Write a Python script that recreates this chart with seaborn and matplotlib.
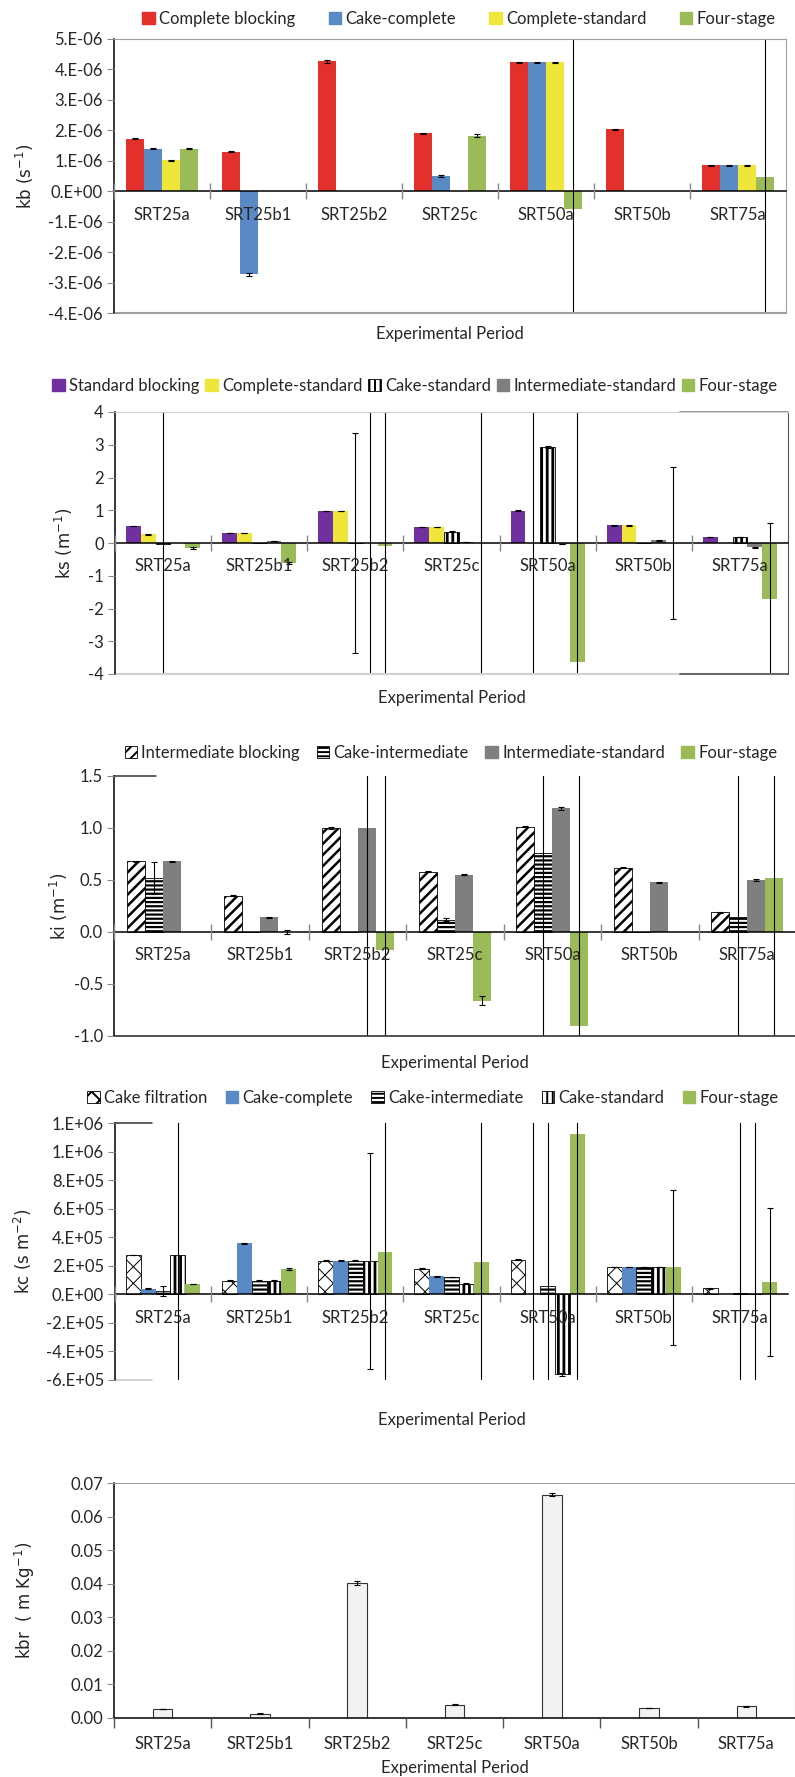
import numpy as np
import pandas as pd
import matplotlib
matplotlib.use('Agg')
import matplotlib.pyplot as plt
from matplotlib.patches import Patch
from matplotlib.ticker import FuncFormatter
import seaborn as sns

sns.set_style('ticks')
plt.rcParams['font.family'] = ['Lato', 'DejaVu Sans']
plt.rcParams['axes.unicode_minus'] = False
plt.rcParams['hatch.linewidth'] = 1.4

periods = ['SRT25a', 'SRT25b1', 'SRT25b2', 'SRT25c', 'SRT50a', 'SRT50b', 'SRT75a']

# --- kb (s-1) ---
kb_series = ['Complete blocking', 'Cake-complete', 'Complete-standard', 'Four-stage']
kb_complete = [1.72e-6, 1.30e-6, 4.27e-6, 1.90e-6, 4.23e-6, 2.04e-6, 0.85e-6]
kb_cake_complete = [1.40e-6, -2.73e-6, 0, 0.50e-6, 4.23e-6, 0.02e-6, 0.85e-6]
kb_complete_std = [1.02e-6, 0, 0, 0, 4.23e-6, 0, 0.85e-6]
kb_four = [1.40e-6, 0, 0, 1.82e-6, -0.58e-6, 0, 0.47e-6]
kb_err = [[0.02e-6, 0.02e-6, 0.05e-6, 0.02e-6, 0.03e-6, 0.02e-6, 0.02e-6],
          [0.01e-6, 0.04e-6, 0, 0.02e-6, 0.03e-6, 0, 0.02e-6],
          [0.02e-6, 0, 0, 0, 0.03e-6, 0, 0.02e-6],
          [0.02e-6, 0, 0, 0.05e-6, 50e-6, 0, 50e-6]]

# --- ks (m-1) ---
ks_series = ['Standard blocking', 'Complete-standard', 'Cake-standard', 'Intermediate-standard', 'Four-stage']
ks_standard = [0.52, 0.31, 0.98, 0.49, 0.99, 0.54, 0.18]
ks_complete_std = [0.26, 0.31, 0.98, 0.49, 0, 0.54, 0]
ks_cake_std = [-0.02, 0, 0, 0.35, 2.93, 0, 0.18]
ks_inter_std = [0, 0.06, 0, 0.03, -0.03, 0.08, -0.13]
ks_four = [-0.15, -0.60, -0.10, 0, -3.62, 0, -1.72]
ks_err = [[0.01] * 7,
          [0.01, 0.01, 0.01, 0.01, 50, 0.01, 0],
          [50, 0, 3.37, 0.01, 0.04, 0, 0.01],
          [0, 0.01, 50, 0.01, 0.01, 0.01, 0.01],
          [0.02, 0.03, 50, 50, 50, 2.33, 2.33]]

# --- ki (m-1) ---
ki_series = ['Intermediate blocking', 'Cake-intermediate', 'Intermediate-standard', 'Four-stage']
ki_inter = [0.68, 0.35, 1.00, 0.58, 1.01, 0.62, 0.19]
ki_cake_inter = [0.52, 0, 0, 0.12, 0.76, 0, 0.14]
ki_inter_std = [0.68, 0.14, 1.00, 0.55, 1.19, 0.48, 0.50]
ki_four = [0, 0, -0.17, -0.66, -0.90, 0, 0.52]
ki_err = [[0.005] * 7,
          [0.15, 0, 0, 0.01, 50, 0, 50],
          [0.005, 0.005, 50, 0.005, 0.015, 0.005, 0.01],
          [0, 0.02, 50, 0.04, 50, 0, 50]]

# --- kc (s m-2) ---
kc_series = ['Cake filtration', 'Cake-complete', 'Cake-intermediate', 'Cake-standard', 'Four-stage']
kc_cake = [2.75e5, 0.95e5, 2.35e5, 1.80e5, 2.42e5, 1.90e5, 0.42e5]
kc_cake_complete = [0.40e5, 3.57e5, 2.35e5, 1.25e5, 0, 1.90e5, 0]
kc_cake_inter = [0.25e5, 0.95e5, 2.35e5, 1.20e5, 0.55e5, 1.90e5, 0.10e5]
kc_cake_std = [2.75e5, 0.95e5, 2.35e5, 0.75e5, -5.60e5, 1.90e5, 0]
kc_four = [0.72e5, 1.77e5, 2.98e5, 2.28e5, 11.2e5, 1.88e5, 0.88e5]
kc_err = [[0.02e5] * 7,
          [0.03e5, 0.04e5, 0.02e5, 0.03e5, 1e8, 0.02e5, 0],
          [0.35e5, 0.02e5, 0.02e5, 0.02e5, 1e8, 0.02e5, 1e8],
          [1e8, 0.02e5, 7.55e5, 0.02e5, 0.12e5, 0.02e5, 1e8],
          [0.03e5, 0.10e5, 1e8, 1e8, 1e8, 5.4e5, 5.2e5]]

# --- kbr (m Kg-1) ---
kbr = [0.0027, 0.0013, 0.0402, 0.0040, 0.0665, 0.0030, 0.0035]
kbr_err = [0.0001, 0.0001, 0.0007, 0.0001, 0.0005, 0.0001, 0.0001]

STYLE = {
    'Complete blocking': ('#E2312A', None),
    'Cake-complete': ('#5A8AC6', None),
    'Complete-standard': ('#EEE63B', None),
    'Four-stage': ('#9BBB59', None),
    'Standard blocking': ('#7030A0', None),
    'Intermediate-standard': ('#7F7F7F', None),
    'Cake-standard': ('white', '|||'),
    'Intermediate blocking': ('white', '///'),
    'Cake-intermediate': ('white', '----'),
    'Cake filtration': ('white', 'xx'),
}
HATCH_LW = {'|||': 2.0, '///': 1.8, '----': 1.6, 'xx': 0.7}

W, H = 795, 1777
fig = plt.figure(figsize=(W / 100, H / 100), dpi=100)


def add_ax(l, r, t, b):
    return fig.add_axes([l / W, 1 - b / H, (r - l) / W, (b - t) / H])


def sci(v, pos):
    if abs(v) < 1e-12:
        return "0.E+00"
    m, e = f"{v:.0e}".split('e')
    return f"{m}.E{e}"


def draw_panel(ax, series, values, errors, width):
    df = pd.DataFrame({
        'period': periods * len(series),
        'series': np.repeat(series, len(periods)),
        'value': np.concatenate(values),
    })
    pal = {s: STYLE[s][0] for s in series}
    sns.barplot(data=df, x='period', y='value', hue='series', hue_order=series,
                palette=pal, width=width, errorbar=None, saturation=1,
                linewidth=0, legend=False, ax=ax)
    handles = []
    for s, cont, vals, err in zip(series, ax.containers, values, errors):
        face, hatch = STYLE[s]
        bars = sorted(cont.patches, key=lambda p: p.get_x())
        for p in bars:
            if hatch:
                p.set_facecolor('white')
                p.set_edgecolor('black')
                p.set_linewidth(0.6)
                p.set_hatch(hatch)
                if hasattr(p, 'set_hatch_linewidth'):
                    p.set_hatch_linewidth(HATCH_LW[hatch])
        xs = np.array([p.get_x() + p.get_width() / 2 for p in bars])
        vals = np.array(vals)
        err = np.array(err)
        keep = err > 0
        ax.errorbar(xs[keep], vals[keep], yerr=err[keep], fmt='none', ecolor='black',
                    elinewidth=0.8, capsize=2, capthick=0.8)
        if hatch:
            hp = Patch(facecolor='white', edgecolor='black', hatch=hatch,
                       linewidth=0.6, label=s)
            if hasattr(hp, 'set_hatch_linewidth'):
                hp.set_hatch_linewidth(HATCH_LW[hatch])
            handles.append(hp)
        else:
            handles.append(Patch(facecolor=face, edgecolor=face, label=s))
    return handles


def style_axis(ax, ylim, yticks, fmt, ylabel, label_x, xlabel_y, left, right, top, bottom,
               zero_axis=True):
    ax.set_axisbelow(False)
    ax.set_xlim(-0.5, 6.5)
    ax.set_ylim(*ylim)
    ax.set_yticks(yticks)
    ax.yaxis.set_major_formatter(FuncFormatter(fmt))
    ax.tick_params(axis='y', length=5, color='#888888', pad=3, labelsize=12)
    ax.set_xticks(range(7))
    ax.set_xticklabels(periods)
    ax.set_xticks(np.arange(-0.5, 6, 1), minor=True)
    if zero_axis:
        ax.spines['bottom'].set_position(('data', 0))
        ax.tick_params(axis='x', which='major', length=0, pad=11, labelsize=12)
        ax.tick_params(axis='x', which='minor', direction='inout', length=11,
                       color='#888888', width=1)
    else:
        ax.tick_params(axis='x', which='major', length=0, pad=13, labelsize=12)
        ax.tick_params(axis='x', which='minor', direction='out', length=7,
                       color='#555555', width=1)
    ax.spines['bottom'].set_color('black')
    ax.spines['bottom'].set_linewidth(1.1)
    ax.spines['left'].set_color('black')
    ax.spines['left'].set_linewidth(1.1)
    ax.set_ylabel(ylabel, fontfamily='DejaVu Sans', fontsize=12, va='center')
    ax.yaxis.set_label_coords((label_x - left) / (right - left), 0.5)
    ax.set_xlabel('Experimental Period', fontsize=12, va='center')
    ax.xaxis.set_label_coords(0.5, -(xlabel_y - bottom) / (bottom - top))


def legend(ax, handles, cx, cy, cs):
    ax.legend(handles=handles, loc='center', bbox_to_anchor=(cx / W, 1 - cy / H),
              bbox_transform=fig.transFigure, ncol=len(handles), frameon=False,
              fontsize=12, handlelength=0.75, handleheight=0.75, handletextpad=0.25,
              columnspacing=cs, borderaxespad=0, borderpad=0)


# Panel 1: kb
L, R, T, B = 114, 786, 39, 313
ax1 = add_ax(L, R, T, B)
h = draw_panel(ax1, kb_series, [kb_complete, kb_cake_complete, kb_complete_std, kb_four],
               kb_err, 0.75)
style_axis(ax1, (-4e-6, 5e-6), [i * 1e-6 for i in range(-4, 6)], sci, 'kb (s$^{-1}$)',
           25, 334, L, R, T, B)
for s in ['top', 'right']:
    ax1.spines[s].set_color('#A0A0A0')
ax1.axhline(-4e-6, color='#A0A0A0', lw=1.5, clip_on=False)
legend(ax1, h, 459, 19, 2.0)

# Panel 2: ks
L, R, T, B = 115, 788, 412, 674
ax2 = add_ax(L, R, T, B)
h = draw_panel(ax2, ks_series, [ks_standard, ks_complete_std, ks_cake_std, ks_inter_std, ks_four],
               ks_err, 0.77)
style_axis(ax2, (-4, 4), list(range(-4, 5)), lambda v, p: f"{v:.0f}", 'ks (m$^{-1}$)',
           64, 698, L, R, T, B)
ax2.spines['top'].set_color('#D0D0D0')
ax2.spines['right'].set_color('#555555')
ax2.axhline(-4, color='#D0D0D0', lw=1.5, clip_on=False)
ax2.axhline(-4, xmin=0.84, xmax=1, color='#555555', lw=1.2, clip_on=False)
ax2.axhline(4, xmin=0.84, xmax=1, color='#888888', lw=1.2, clip_on=False)
legend(ax2, h, 415, 386, 0.35)

# Panel 3: ki
L, R, T, B = 114, 796, 776, 1036
ax3 = add_ax(L, R, T, B)
h = draw_panel(ax3, ki_series, [ki_inter, ki_cake_inter, ki_inter_std, ki_four], ki_err, 0.74)
style_axis(ax3, (-1.0, 1.5), [-1.0, -0.5, 0.0, 0.5, 1.0, 1.5], lambda v, p: f"{v:.1f}",
           'ki (m$^{-1}$)', 59, 1063, L, R, T, B)
ax3.spines['top'].set_visible(False)
ax3.spines['right'].set_color('#A0A0A0')
ax3.axhline(1.5, xmin=0, xmax=0.061, color='#333333', lw=1.1, clip_on=False)
ax3.axhline(-1.0, color='#444444', lw=1.3, clip_on=False)
legend(ax3, h, 451, 753, 1.0)

# Panel 4: kc
L, R, T, B = 115, 788, 1123, 1380
ax4 = add_ax(L, R, T, B)
h = draw_panel(ax4, kc_series, [kc_cake, kc_cake_complete, kc_cake_inter, kc_cake_std, kc_four],
               kc_err, 0.77)
style_axis(ax4, (-6e5, 1.2e6), [i * 2e5 for i in range(-3, 7)], sci, 'kc (s m$^{-2}$)',
           23, 1420, L, R, T, B)
ax4.spines['top'].set_visible(False)
ax4.spines['right'].set_visible(False)
ax4.axhline(1.2e6, xmin=0, xmax=0.055, color='#333333', lw=1.1, clip_on=False)
ax4.axhline(-6e5, xmin=0, xmax=0.055, color='#C8C8C8', lw=1.1, clip_on=False)
legend(ax4, h, 433, 1098, 1.1)

# Panel 5: kbr
L, R, T, B = 114, 795, 1483, 1718
ax5 = add_ax(L, R, T, B)
df5 = pd.DataFrame({'period': periods, 'kbr': kbr})
sns.barplot(data=df5, x='period', y='kbr', color='#F2F2F2', saturation=1, width=0.2,
            errorbar=None, edgecolor='#333333', linewidth=0.8, ax=ax5)
bars5 = sorted(ax5.containers[0].patches, key=lambda p: p.get_x())
xs5 = [p.get_x() + p.get_width() / 2 for p in bars5]
ax5.errorbar(xs5, kbr, yerr=kbr_err, fmt='none', ecolor='black', elinewidth=0.8,
             capsize=2, capthick=0.8)
style_axis(ax5, (0, 0.07), [i * 0.01 for i in range(8)], lambda v, p: f"{v:.2f}",
           'kbr  ( m Kg$^{-1}$)', 25, 1768, L, R, T, B, zero_axis=False)
for s in ['top', 'right']:
    ax5.spines[s].set_color('#A0A0A0')

fig.savefig('out.png', dpi=100)
